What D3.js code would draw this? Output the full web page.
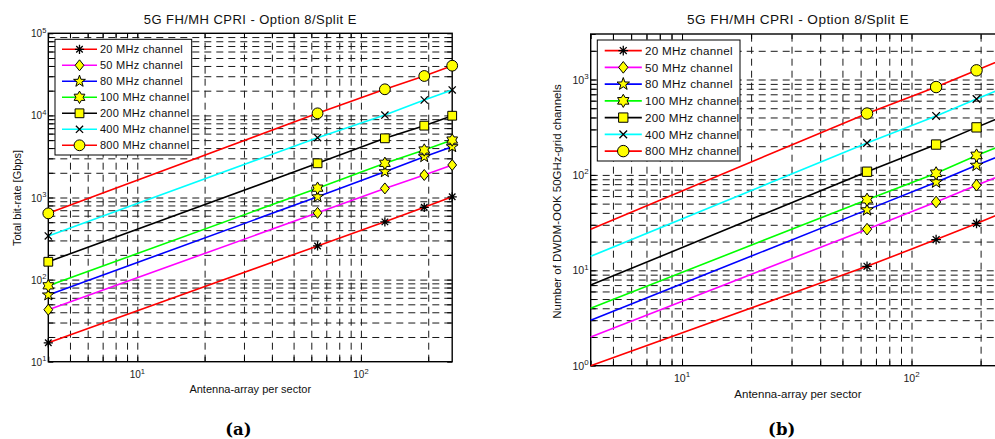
<!DOCTYPE html>
<html>
<head>
<meta charset="utf-8">
<script src="https://cdn.jsdelivr.net/npm/d3@7"></script>
<style>
  body { margin: 0; background: #fff; }
  svg { display: block; font-family: 'Liberation Sans', Arial, sans-serif; }
</style>
</head>
<body>
<div id="diagram"></div>
<script>
// - - - - - - - - - -
// data
const antennas = [4, 64, 128, 192, 256];
const channelNames = ['20 MHz channel', '50 MHz channel', '80 MHz channel', '100 MHz channel',
  '200 MHz channel', '400 MHz channel', '800 MHz channel'];

// (a) total bit-rate [Gbps]
const rate20 = [17, 257, 505, 760, 1020];
const rate50 = [43, 650, 1290, 1880, 2490];
const rate80 = [65, 1020, 2060, 3140, 4160];
const rate100 = [84, 1300, 2610, 3790, 5010];
const rate200 = [165, 2610, 5260, 7500, 9910];
const rate400 = [340, 5350, 10100, 15400, 20400];
const rate800 = [641, 10600, 20800, 30200, 40300];

// (b) number of DWDM-OOK 50GHz-grid channels
const chan20 = [1, 11, 21, 31, 41];
const chan50 = [2, 27, 52, 78, 103];
const chan80 = [3, 43, 84, 126, 167];
const chan100 = [4, 55, 104, 160, 210];
const chan200 = [7, 108, 208, 315, 420];
const chan400 = [14, 216, 415, 625, 830];
const chan800 = [27, 440, 834, 1248, 1660];

const titleText = '5G FH/MH CPRI - Option 8/Split E';
const xLabelText = 'Antenna-array per sector';
const yLabelA = 'Total bit-rate [Gbps]';
const yLabelB = 'Number of DWDM-OOK 50GHz-grid channels';

!(function () {
  'use strict'
  let
    svg = undefined,
    colors = ['#ff0000', '#ff00ff', '#0000ff', '#00ff00', '#000000', '#00ffff', '#ff0000'],
    markers = ['asterisk', 'diamond', 'pentagram', 'hexagram', 'square', 'cross', 'circle'],
    panels = undefined,
    markerPath = undefined,
    starPath = undefined,
    powLabel = undefined,
    drawPanel = undefined;

  panels = [
    {
      left: 48.3, right: 452.2, top: 33.3, bottom: 361.7,
      yDomain: [10, 1e5], series: [rate20, rate50, rate80, rate100, rate200, rate400, rate800],
      yLabel: yLabelA, yLabelPos: [17, 198], k: 1, firstMarker: 0,
      legend: { x: 55, y: 39.3, w: 136.7, h: 115.7, row: 16 },
      caption: '(a)', captionX: 238.3, titleSize: 13, labelSize: 11, xLabelY: 392.7
    },
    {
      left: 590.7, right: 1005.2, top: 34, bottom: 365.7,
      yDomain: [1, 3000], series: [chan20, chan50, chan80, chan100, chan200, chan400, chan800],
      yLabel: yLabelB, yLabelPos: [556.7, 201.5], k: 1.06, firstMarker: 1,
      legend: { x: 597.3, y: 40, w: 142.7, h: 121, row: 16.75 },
      caption: '(b)', captionX: 781.7, titleSize: 13.6, labelSize: 11.5, xLabelY: 397.7
    }
  ];

  starPath = function (n, R, r) {
    const p = d3.path();
    for (let i = 0; i < 2 * n; i++) {
      const a = -Math.PI / 2 + i * Math.PI / n,
        rr = i % 2 ? r : R;
      if (i === 0) p.moveTo(rr * Math.cos(a), rr * Math.sin(a));
      else p.lineTo(rr * Math.cos(a), rr * Math.sin(a));
    }
    p.closePath();
    return p.toString();
  };

  markerPath = function (type, k) {
    const p = d3.path();
    if (type === 'circle') {
      const r = 5.4 * k;
      p.moveTo(r, 0); p.arc(0, 0, r, 0, 2 * Math.PI);
    } else if (type === 'square') {
      const s = 4.4 * k;
      p.rect(-s, -s, 2 * s, 2 * s);
    } else if (type === 'diamond') {
      const a = 4.4 * k, b = 5.5 * k;
      p.moveTo(0, -b); p.lineTo(a, 0); p.lineTo(0, b); p.lineTo(-a, 0); p.closePath();
    } else if (type === 'pentagram') {
      return starPath(5, 6.2 * k, 2.5 * k);
    } else if (type === 'hexagram') {
      return starPath(6, 6.2 * k, 3.6 * k);
    } else if (type === 'cross') {
      const s = 3.6 * k;
      p.moveTo(-s, -s); p.lineTo(s, s); p.moveTo(s, -s); p.lineTo(-s, s);
    } else if (type === 'asterisk') {
      const s = 4.6 * k, d = s * 0.7071;
      p.moveTo(-s, 0); p.lineTo(s, 0); p.moveTo(0, -s); p.lineTo(0, s);
      p.moveTo(-d, -d); p.lineTo(d, d); p.moveTo(d, -d); p.lineTo(-d, d);
    }
    return p.toString();
  };

  // "10" with a raised exponent
  powLabel = function (sel, v, size) {
    const t = sel.append('text').attr('font-size', size).attr('fill', '#222');
    t.append('tspan').text('10');
    t.append('tspan').attr('font-size', size * 0.75).attr('dy', -size * 0.45)
      .text(Math.round(Math.log10(v)));
    return t;
  };

  drawPanel = function (p) {
    const x = d3.scaleLog().domain([4, 256]).range([p.left, p.right]),
      y = d3.scaleLog().domain(p.yDomain).range([p.bottom, p.top]),
      w = p.right - p.left,
      h = p.bottom - p.top,
      g = svg.append('g'),
      isMajor = v => Math.abs(Math.log10(v) - Math.round(Math.log10(v))) < 1e-9,
      xTicks = x.ticks(),
      yTicks = y.ticks();

    // grid
    g.append('g')
      .attr('transform', 'translate(0,' + p.bottom + ')')
      .call(d3.axisBottom(x).tickValues(xTicks.filter(v => v > 4 && v < 256)).tickSize(-h).tickFormat(''))
      .call(s => s.select('.domain').remove());
    g.append('g')
      .attr('transform', 'translate(' + p.left + ',0)')
      .call(d3.axisLeft(y).tickValues(yTicks.filter(v => v > p.yDomain[0] * 1.001 && v < p.yDomain[1] * 0.999)).tickSize(-w).tickFormat(''))
      .call(s => s.select('.domain').remove());
    g.selectAll('.tick line').attr('stroke', '#1a1a1a').attr('stroke-width', 1).attr('stroke-dasharray', '7,5');

    // inward ticks on all four sides
    const ticks = g.append('g').attr('class', 'ticks');
    ticks.append('g').attr('transform', 'translate(0,' + p.bottom + ')')
      .call(d3.axisBottom(x).tickValues(xTicks).tickSize(-5).tickSizeOuter(0).tickFormat(''));
    ticks.append('g').attr('transform', 'translate(0,' + p.top + ')')
      .call(d3.axisTop(x).tickValues(xTicks).tickSize(-5).tickSizeOuter(0).tickFormat(''));
    ticks.append('g').attr('transform', 'translate(' + p.left + ',0)')
      .call(d3.axisLeft(y).tickValues(yTicks).tickSize(-5).tickSizeOuter(0).tickFormat(''));
    ticks.append('g').attr('transform', 'translate(' + p.right + ',0)')
      .call(d3.axisRight(y).tickValues(yTicks).tickSize(-5).tickSizeOuter(0).tickFormat(''));
    ticks.selectAll('.domain').remove();
    ticks.selectAll('.tick line').attr('stroke', '#000').attr('stroke-width', 1);

    g.append('rect')
      .attr('x', p.left).attr('y', p.top).attr('width', w).attr('height', h)
      .attr('fill', 'none').attr('stroke', '#000').attr('stroke-width', 1.4);

    // tick labels
    xTicks.filter(isMajor).forEach(v => {
      powLabel(g, v, 10 * p.k).attr('x', x(v)).attr('y', p.bottom + 16.5).attr('text-anchor', 'middle');
    });
    yTicks.filter(isMajor).forEach(v => {
      powLabel(g, v, 10 * p.k).attr('x', p.left - 2).attr('y', y(v) + 4).attr('text-anchor', 'end');
    });

    // series
    const line = d3.line().x((d, i) => x(antennas[i])).y(d => y(d));
    p.series.forEach((vals, si) => {
      g.append('path').attr('d', line(vals))
        .attr('fill', 'none').attr('stroke', colors[si]).attr('stroke-width', 1.6);
    });
    p.series.forEach((vals, si) => {
      const open = markers[si] === 'cross' || markers[si] === 'asterisk';
      g.selectAll(null)
        .data(vals.slice(p.firstMarker).map((v, i) => [antennas[i + p.firstMarker], v]))
        .enter()
        .append('path')
        .attr('transform', d => 'translate(' + x(d[0]) + ',' + y(d[1]) + ')')
        .attr('d', markerPath(markers[si], p.k))
        .attr('fill', open ? 'none' : '#ffff00')
        .attr('stroke', '#000').attr('stroke-width', open ? 1.3 : 1);
    });

    // legend
    const L = p.legend,
      lg = g.append('g');
    lg.append('rect').attr('x', L.x).attr('y', L.y).attr('width', L.w).attr('height', L.h)
      .attr('fill', '#fff').attr('stroke', '#000').attr('stroke-width', 1);
    channelNames.forEach((name, si) => {
      const ry = L.y + 10 * p.k + si * L.row,
        open = markers[si] === 'cross' || markers[si] === 'asterisk';
      lg.append('line').attr('x1', L.x + 7 * p.k).attr('x2', L.x + 42 * p.k).attr('y1', ry).attr('y2', ry)
        .attr('stroke', colors[si]).attr('stroke-width', 1.6);
      lg.append('path').attr('transform', 'translate(' + (L.x + 24.5 * p.k) + ',' + ry + ')')
        .attr('d', markerPath(markers[si], p.k))
        .attr('fill', open ? 'none' : '#ffff00')
        .attr('stroke', '#000').attr('stroke-width', open ? 1.3 : 1);
      lg.append('text').attr('x', L.x + 45 * p.k).attr('y', ry).attr('dy', '0.36em')
        .attr('font-size', 11 * p.k).attr('letter-spacing', 0.25).attr('fill', '#111').text(name);
    });

    // titles
    g.append('text').attr('x', (p.left + p.right) / 2).attr('y', 24)
      .attr('text-anchor', 'middle').attr('font-size', p.titleSize).attr('letter-spacing', 0.45)
      .attr('fill', '#111').text(titleText);
    g.append('text').attr('x', (p.left + p.right) / 2).attr('y', p.xLabelY)
      .attr('text-anchor', 'middle').attr('font-size', p.labelSize).attr('fill', '#111').text(xLabelText);
    g.append('text')
      .attr('transform', 'translate(' + p.yLabelPos[0] + ',' + p.yLabelPos[1] + ') rotate(-90)')
      .attr('text-anchor', 'middle').attr('dy', '0.35em')
      .attr('font-size', p.labelSize).attr('fill', '#111').text(p.yLabel);
    g.append('text').attr('x', p.captionX).attr('y', 434.5)
      .attr('text-anchor', 'middle').attr('font-family', "'DejaVu Serif', serif")
      .attr('font-weight', 'bold').attr('font-size', 16.5).attr('fill', '#000').text(p.caption);
  };

  // process
  svg = d3.select('#diagram')
    .append('svg')
    .attr('width', 995)
    .attr('height', 439);

  panels.forEach(drawPanel);
  // - - - - - - - - - -
}())
</script>
</body>
</html>
